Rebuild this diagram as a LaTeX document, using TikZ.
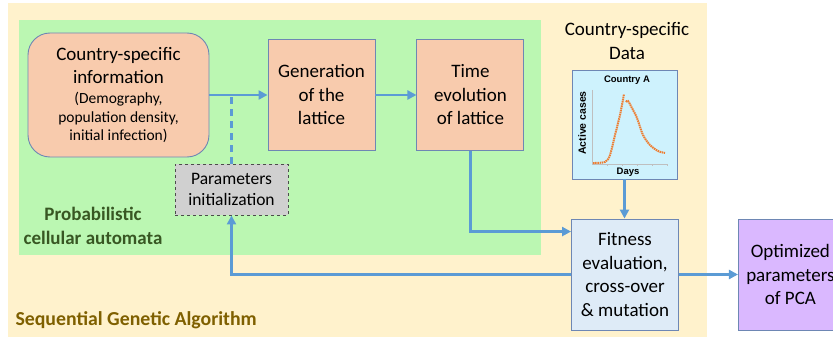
\documentclass[tikz,border=0pt]{standalone}
\usepackage{fontspec}
\setmainfont{Carlito}
\newfontfamily\chartfont{Liberation Sans}
\usetikzlibrary{arrows.meta,positioning}

\definecolor{tanbg}{RGB}{255,242,204}
\definecolor{pcabg}{RGB}{187,247,178}
\definecolor{salmon}{RGB}{248,203,173}
\definecolor{edge}{RGB}{110,135,180}
\definecolor{flowblue}{RGB}{91,155,213}
\definecolor{paramgray}{RGB}{208,208,208}
\definecolor{chartbg}{RGB}{206,242,253}
\definecolor{fitblue}{RGB}{222,235,247}
\definecolor{optpurple}{RGB}{218,184,255}
\definecolor{pcatext}{RGB}{56,87,35}
\definecolor{sgatext}{RGB}{127,96,0}
\definecolor{curve}{RGB}{237,125,49}

\begin{document}
\begin{tikzpicture}[%
    x=1pt, y=-1pt,                        % one unit per pixel, y going down
    >={Triangle[length=9pt,width=9pt]},   % Filled arrow heads
    font=\fontsize{19}{23.5}\selectfont,  % Global text size
    ]
% -------------------------------------------------
% A few box styles
\tikzset{
  base/.style={draw=edge, line width=0.9pt, align=center, inner sep=2pt},
  box/.style={base, minimum width=107pt, minimum height=111pt},
  info/.style={base, fill=salmon, rounded corners=22pt, minimum width=181pt, minimum height=124pt},
  param/.style={base, draw=black!70, dashed, fill=paramgray, minimum width=113pt, minimum height=51pt, font=\fontsize{17.5}{21}\selectfont},
  % Connector line styles
  flow/.style={->, draw=flowblue, line width=2.3pt},
  dsh/.style={draw=flowblue, line width=2.3pt, dash pattern=on 7pt off 5pt},
  lbl/.style={align=center, font=\fontsize{19}{24}\selectfont\bfseries}
}
\useasboundingbox (0,0) rectangle (833,337);
\clip (0,0) rectangle (833,337);
% -------------------------------------------------
% Background areas
\fill[white] (0,0) rectangle (833,337);
\fill[tanbg] (8,3) rectangle (707,337);
\fill[pcabg] (19,20) rectangle (541,255);

% -------------------------------------------------
% Start by placing the nodes
\node [info] (a) at (118.5,95) {Country-specific\\information\\[-3.5pt]
  {\fontsize{15.5}{18}\selectfont (Demography,}\\[-5pt]
  {\fontsize{15.5}{18}\selectfont population density,}\\[-5pt]
  {\fontsize{15.5}{18}\selectfont initial infection)}};
\node [box, fill=salmon] (b) at (321.5,95) {Generation\\of the\\lattice};
\node [box, fill=salmon, right = 41pt of b] (c) {Time\\evolution\\of lattice};
\node [param] (d) at (231.5,189.5) {Parameters\\initialization};
\node [box, fill=fitblue] (e) at (625,274.5) {Fitness\\evaluation,\\cross-over\\\& mutation};
\node [box, fill=optpurple, minimum width=104pt, right = 59pt of e] (f) {Optimized\\parameters\\of PCA};
\node [base, fill=chartbg, minimum width=105pt, minimum height=109pt] (g) at (624.5,124.5) {};

% Area labels
\node [align=center] (h) at (627,41) {Country-specific\\Data};
\node [lbl, text=pcatext] (i) at (93,226) {Probabilistic\\cellular automata};
\node [lbl, text=sgatext, anchor=west, font=\fontsize{19.8}{24}\selectfont\bfseries] (j) at (12,320) {Sequential Genetic Algorithm};

% Small chart of the data
\begin{scope}[font=\chartfont\bfseries\fontsize{9.5}{10}\selectfont]
  \node (k) at (627,80) {Country A};
  \node [rotate=90, font=\chartfont\bfseries\fontsize{10.5}{11}\selectfont] (l) at (582,123) {Active cases};
  \node (m) at (628,172) {Days};
  \draw[black!25, line width=0.6pt] (592,90) -- (592,164) -- (668,164);
  \foreach \t in {607,622,637,652,667} \draw[black!25] (\t,164) -- (\t,166);
  \draw[curve, line width=2pt, dash pattern=on 1.5pt off 0.7pt]
    plot[smooth] coordinates {(593,163) (605,162) (610,155) (615,135) (620,115) (624,94)};
  \draw[curve, line width=2pt, dash pattern=on 1.5pt off 0.7pt]
    plot[smooth] coordinates {(626,102) (628,101) (632,108) (637,118) (643,135) (650,145) (658,151) (665,153)};
\end{scope}

% -------------------------------------------------
% Connectors
\draw[flow] (a.east) -- (b.west);		%Country info,Generation
\draw[flow] (b) -- (c);		%Generation,Time evolution
\draw[dsh] (d.north) -- (d.north |- a.east);		%Parameters,info line
\draw[flow] (c.south) |- ([yshift=-13pt]e.north west);		%Time evolution,Fitness
\draw[flow] (g.south) -- (g.south |- e.north);		%Data,Fitness
\draw[flow] (e.west) -| (d.south);		%Fitness,Parameters
\draw[flow] (e) -- (f);		%Fitness,Optimized

% -------------------------------------------------
\end{tikzpicture}
\end{document}
